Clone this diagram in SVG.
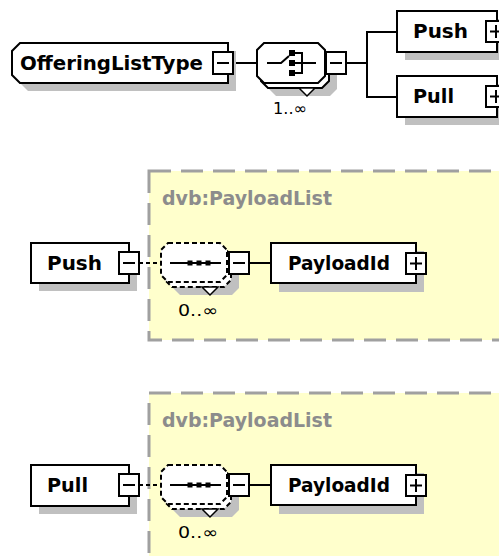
<svg xmlns="http://www.w3.org/2000/svg" width="499" height="556" viewBox="0 0 499 556">
<style>
.box{fill:#fff;stroke:#000;stroke-width:2}
.shd{fill:#c0c0c0;stroke:none}
.ln{stroke:#000;stroke-width:2;fill:none}
.dln{stroke:#000;stroke-width:2;fill:none;stroke-dasharray:4 3}
.dbox{fill:#fff;stroke:#000;stroke-width:2;stroke-dasharray:5 3}
.yel{fill:#ffffcc;stroke:#a0a0a0;stroke-width:3;stroke-dasharray:22 10}
.t{font-family:"DejaVu Sans",Verdana,sans-serif;font-weight:bold;font-size:19px;fill:#000}
.lbl{font-family:"DejaVu Sans",Verdana,sans-serif;font-weight:bold;font-size:19px;fill:#8c8c8c}
.occ{font-family:"DejaVu Sans",Verdana,sans-serif;font-size:16px;fill:#000}
.tri{fill:#fff;stroke:#000;stroke-width:1.5}
</style>
<rect width="499" height="556" fill="#fff"/>

<g id="type1"><rect class="yel" x="149" y="171" width="370" height="169"/>
<text class="lbl" x="162" y="205" textLength="170" lengthAdjust="spacingAndGlyphs">dvb:PayloadList</text></g>
<g id="type2"><rect class="yel" x="149" y="393" width="370" height="190"/>
<text class="lbl" x="162" y="427" textLength="170" lengthAdjust="spacingAndGlyphs">dvb:PayloadList</text></g>

<g id="connectors">
<line class="ln" x1="233" y1="63" x2="257" y2="63"/>
<polyline class="ln" points="346,63 367,63"/>
<polyline class="ln" points="397,32 367,32 367,97 397,97"/>
<line class="dln" x1="139" y1="263" x2="161" y2="263"/>
<line class="ln" x1="248" y1="263" x2="271" y2="263"/>
<line class="dln" x1="139" y1="485" x2="161" y2="485"/>
<line class="ln" x1="248" y1="485" x2="271" y2="485"/>
</g>

<g id="OfferingListType">
<polygon class="shd" points="28,51 236,51 236,91 28,91 20,83 20,59"/>
<polygon class="box" points="20,43 228,43 228,83 20,83 12,75 12,51"/>
<text class="t" x="20" y="70" textLength="183" lengthAdjust="spacingAndGlyphs">OfferingListType</text>
<rect class="box" x="213" y="52" width="20" height="22"/>
<line class="ln" x1="217" y1="63" x2="229" y2="63"/>
</g>

<g id="choice">
<polygon class="shd" points="276,56 330,56 337,63 337,89 330,96 276,96 269,89 269,63"/>
<polygon class="box" points="268,48 322,48 329,55 329,81 322,88 268,88 261,81 261,55"/>
<polygon class="box" points="264,43 318,43 325,50 325,76 318,83 264,83 257,76 257,50"/>
<polygon class="tri" points="299,88 315,88 307,96"/>
<polyline class="ln" points="267,63 281,63 289,56"/>
<rect x="289" y="50" width="6" height="6" fill="#000"/>
<rect x="289" y="60" width="6" height="6" fill="#000"/>
<rect x="289" y="70" width="6" height="6" fill="#000"/>
<polyline class="ln" points="295,53 302,53 302,73 295,73"/>
<line class="ln" x1="295" y1="63" x2="316" y2="63"/>
<rect class="box" x="326" y="52" width="20" height="22"/>
<line class="ln" x1="330" y1="63" x2="342" y2="63"/>
<text class="occ" x="273" y="114" textLength="34" lengthAdjust="spacingAndGlyphs">1..∞</text>
</g>

<g id="PushRef">
<rect class="shd" x="405" y="19" width="100" height="41"/>
<rect class="box" x="397" y="11" width="100" height="41"/>
<text class="t" x="413" y="38" textLength="55" lengthAdjust="spacingAndGlyphs">Push</text>
<rect class="box" x="486" y="21" width="20" height="21"/>
<line class="ln" x1="490" y1="31.5" x2="502" y2="31.5"/>
<line class="ln" x1="496" y1="25" x2="496" y2="38"/>
</g>

<g id="PullRef">
<rect class="shd" x="405" y="84" width="100" height="41"/>
<rect class="box" x="397" y="76" width="100" height="41"/>
<text class="t" x="413" y="103" textLength="41" lengthAdjust="spacingAndGlyphs">Pull</text>
<rect class="box" x="486" y="86" width="20" height="21"/>
<line class="ln" x1="490" y1="96.5" x2="502" y2="96.5"/>
<line class="ln" x1="496" y1="90" x2="496" y2="103"/>
</g>

<g id="Push">
<rect class="shd" x="39" y="251" width="98" height="40"/>
<rect class="box" x="31" y="243" width="98" height="40"/>
<text class="t" x="47" y="270" textLength="55" lengthAdjust="spacingAndGlyphs">Push</text>
<rect class="box" x="119" y="252" width="20" height="22"/>
<line class="ln" x1="123" y1="263" x2="135" y2="263"/>
</g>
<g id="seq1">
<polygon class="shd" points="180,256 232,256 239,263 239,288 232,295 180,295 173,288 173,263"/>
<polygon class="dbox" points="172,248 224,248 231,255 231,280 224,287 172,287 165,280 165,255"/>
<polygon class="dbox" points="168,243 220,243 227,250 227,275 220,282 168,282 161,275 161,250"/>
<polygon class="tri" points="202,287 218,287 210,295"/>
<line class="ln" x1="170" y1="263" x2="221" y2="263"/>
<rect x="187.5" y="260.5" width="5" height="5" fill="#000"/>
<rect x="196.5" y="260.5" width="5" height="5" fill="#000"/>
<rect x="205.5" y="260.5" width="5" height="5" fill="#000"/>
<rect class="box" x="229" y="252" width="20" height="22"/>
<line class="ln" x1="233" y1="263" x2="245" y2="263"/>
<text class="occ" x="178" y="316" textLength="40" lengthAdjust="spacingAndGlyphs">0..∞</text>
</g>
<g id="PayloadId1">
<rect class="shd" x="279" y="251" width="145" height="41"/>
<rect class="box" x="271" y="243" width="145" height="40"/>
<text class="t" x="288" y="270" textLength="102" lengthAdjust="spacingAndGlyphs">PayloadId</text>
<rect class="box" x="406" y="253" width="20" height="21"/>
<line class="ln" x1="410" y1="263.5" x2="422" y2="263.5"/>
<line class="ln" x1="416" y1="257" x2="416" y2="270"/>
</g>

<g id="Pull">
<rect class="shd" x="39" y="473" width="98" height="41"/>
<rect class="box" x="31" y="465" width="98" height="41"/>
<text class="t" x="47" y="492" textLength="41" lengthAdjust="spacingAndGlyphs">Pull</text>
<rect class="box" x="119" y="474" width="20" height="22"/>
<line class="ln" x1="123" y1="485" x2="135" y2="485"/>
</g>
<g id="seq2">
<polygon class="shd" points="180,478 232,478 239,485 239,510 232,517 180,517 173,510 173,485"/>
<polygon class="dbox" points="172,470 224,470 231,477 231,502 224,509 172,509 165,502 165,477"/>
<polygon class="dbox" points="168,465 220,465 227,472 227,497 220,504 168,504 161,497 161,472"/>
<polygon class="tri" points="202,509 218,509 210,517"/>
<line class="ln" x1="170" y1="485" x2="221" y2="485"/>
<rect x="187.5" y="482.5" width="5" height="5" fill="#000"/>
<rect x="196.5" y="482.5" width="5" height="5" fill="#000"/>
<rect x="205.5" y="482.5" width="5" height="5" fill="#000"/>
<rect class="box" x="229" y="474" width="20" height="22"/>
<line class="ln" x1="233" y1="485" x2="245" y2="485"/>
<text class="occ" x="178" y="538" textLength="40" lengthAdjust="spacingAndGlyphs">0..∞</text>
</g>
<g id="PayloadId2">
<rect class="shd" x="279" y="473" width="145" height="41"/>
<rect class="box" x="271" y="465" width="145" height="40"/>
<text class="t" x="288" y="492" textLength="102" lengthAdjust="spacingAndGlyphs">PayloadId</text>
<rect class="box" x="406" y="475" width="20" height="21"/>
<line class="ln" x1="410" y1="485.5" x2="422" y2="485.5"/>
<line class="ln" x1="416" y1="479" x2="416" y2="492"/>
</g>
</svg>
